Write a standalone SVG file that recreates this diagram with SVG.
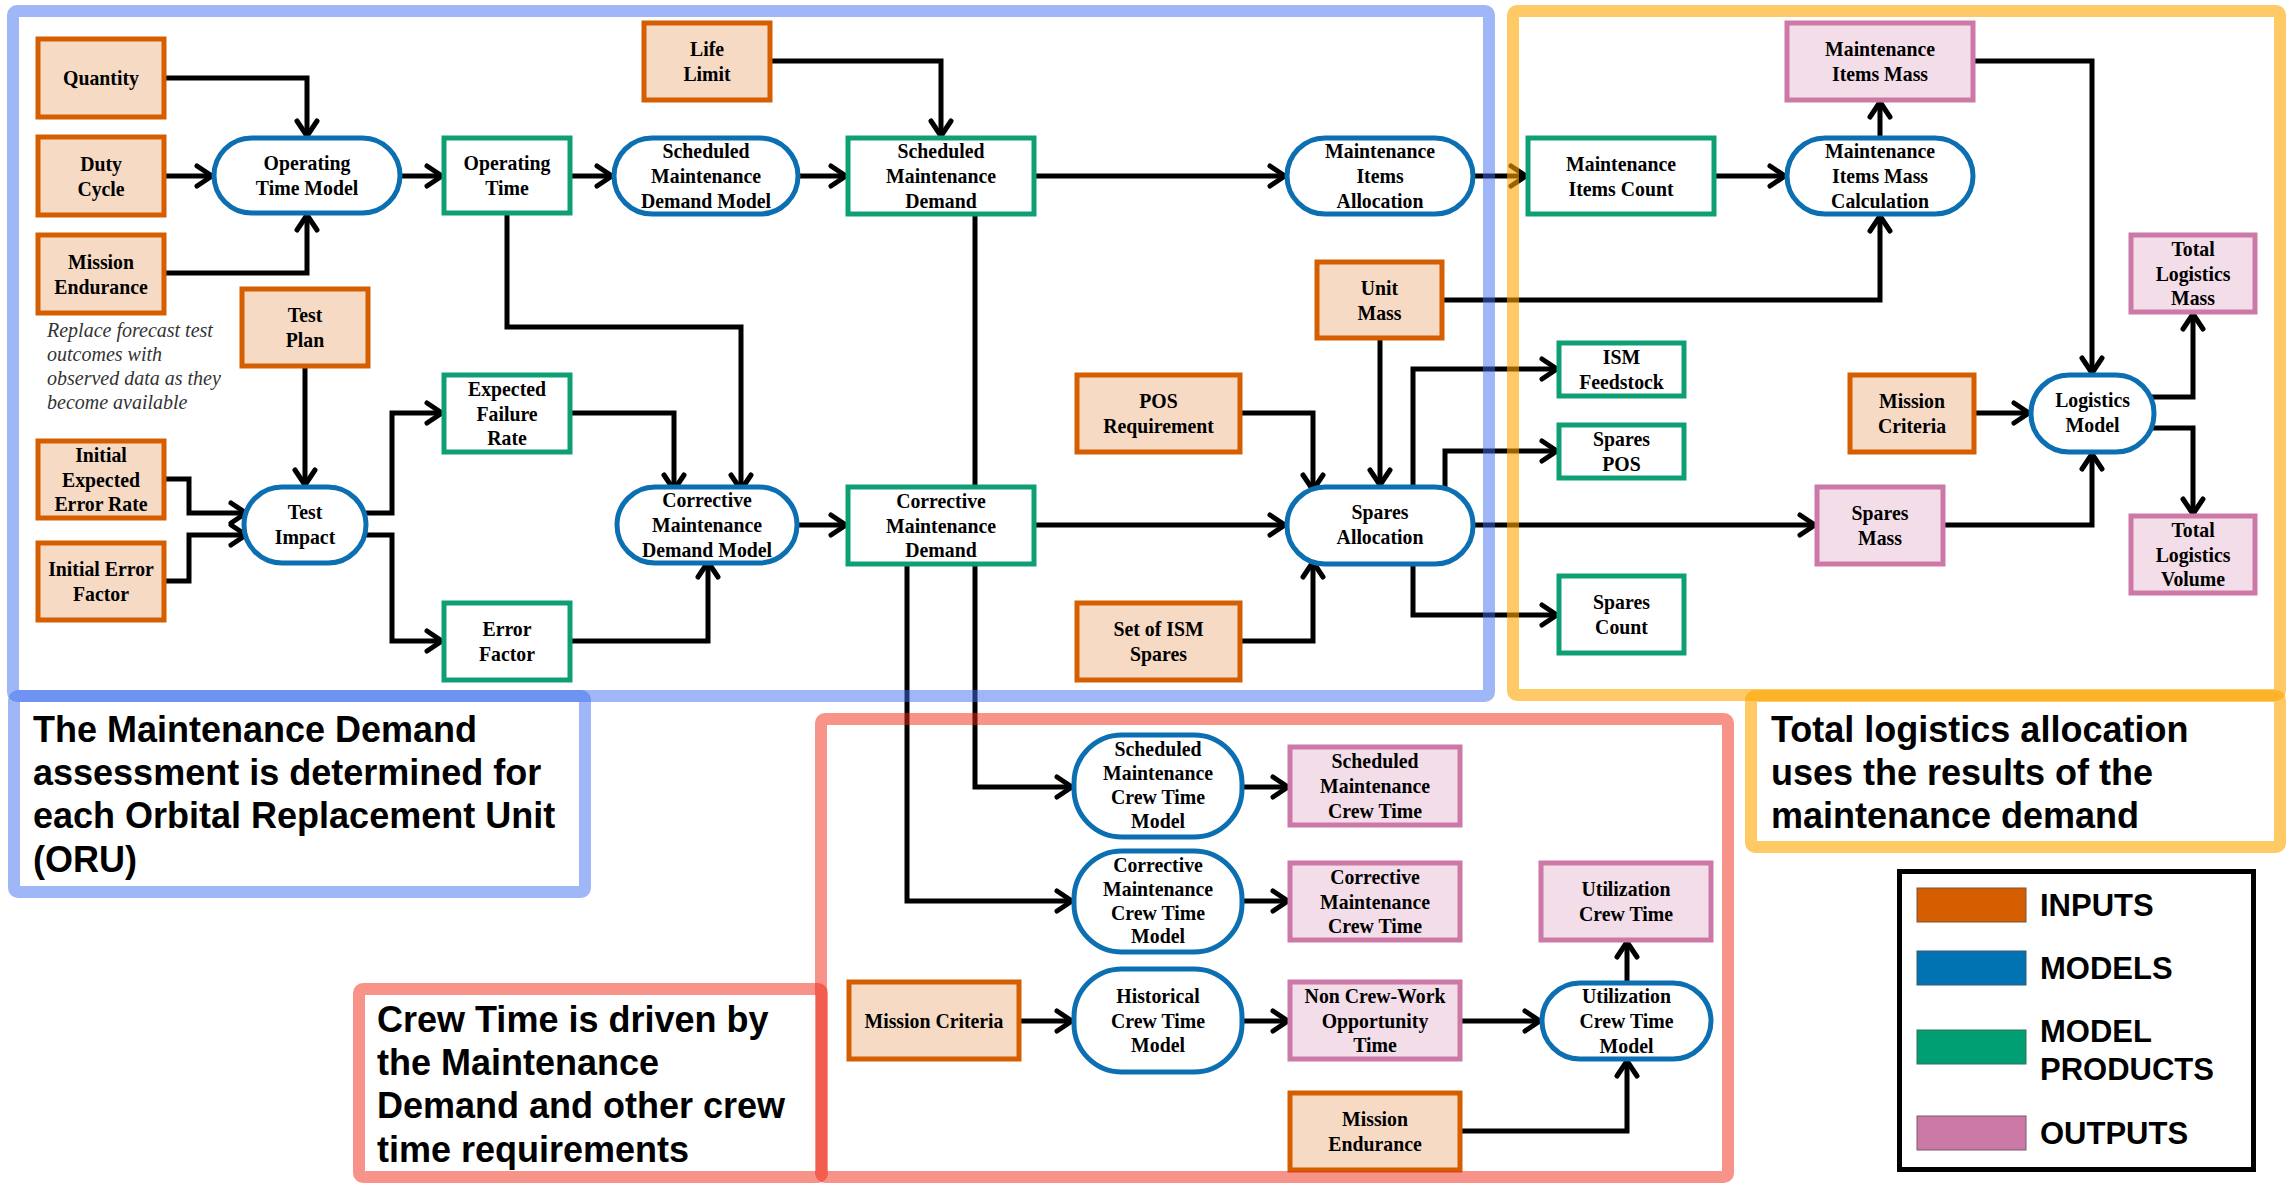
<svg xmlns="http://www.w3.org/2000/svg" width="2287" height="1183" viewBox="0 0 2287 1183">
<defs>
<style>
.nt{font-family:"Liberation Serif","Times New Roman",serif;font-weight:bold;font-size:22px;text-anchor:middle;fill:#000}
.in{fill:#f6dac4;stroke:#d55e00;stroke-width:5}
.md{fill:#fff;stroke:#0c6fb1;stroke-width:5}
.pr{fill:#fff;stroke:#0f9f74;stroke-width:5}
.ou{fill:#f3dde8;stroke:#cc79a7;stroke-width:5}
.c polyline{fill:none;stroke:#000;stroke-width:5;marker-end:url(#ah)}
.fr{fill:none;stroke-width:12}
.fb{stroke:rgb(64,112,240);stroke-opacity:.5}
.fy{stroke:rgb(255,165,0);stroke-opacity:.6}
.frd{stroke:rgb(240,40,20);stroke-opacity:.5}
.lb{font-family:"Liberation Sans",Arial,sans-serif;font-weight:bold;font-size:36px;fill:#000}
.lg{font-family:"Liberation Sans",Arial,sans-serif;font-weight:bold;font-size:31px;fill:#000}
.note{font-family:"Liberation Serif","Times New Roman",serif;font-style:italic;font-size:20px;fill:#333}
</style>
<marker id="ah" markerUnits="userSpaceOnUse" markerWidth="24" markerHeight="24" refX="18" refY="12" orient="auto" overflow="visible">
<path d="M3,2 L18,12 L3,22" fill="none" stroke="#000" stroke-width="5" stroke-linejoin="round" stroke-linecap="round"/>
</marker>
</defs>
<rect width="2287" height="1183" fill="#fff"/>

<g id="connectors" class="c">
<polyline points="164,78 307,78 307,136"/>
<polyline points="164,176 212,176"/>
<polyline points="164,273 307,273 307,215"/>
<polyline points="400,176 442,176"/>
<polyline points="570,176 612,176"/>
<polyline points="798,176 846,176"/>
<polyline points="770,61 941,61 941,136"/>
<polyline points="507,213 507,327 741,327 741,490"/>
<polyline points="305,366 305,485"/>
<polyline points="164,479 189,479 189,513 246,513"/>
<polyline points="164,581 189,581 189,535 246,535"/>
<polyline points="364,513 392,513 392,413 442,413"/>
<polyline points="364,535 392,535 392,641 442,641"/>
<polyline points="570,413 674,413 674,490"/>
<polyline points="570,641 708,641 708,562"/>
<polyline points="797,525 846,525"/>
<polyline points="1034,176 1285,176"/>
<polyline points="1473,176 1526,176"/>
<polyline points="975,214 975,787 1072,787"/>
<polyline points="907,564 907,901 1072,901"/>
<polyline points="1034,525 1285,525"/>
<polyline points="1240,413 1313,413 1313,490"/>
<polyline points="1380,338 1380,485"/>
<polyline points="1442,300 1880,300 1880,216"/>
<polyline points="1413,488 1413,369 1557,369"/>
<polyline points="1445,490 1445,451 1557,451"/>
<polyline points="1413,563 1413,615 1557,615"/>
<polyline points="1240,641 1313,641 1313,562"/>
<polyline points="1473,525 1815,525"/>
<polyline points="1714,176 1785,176"/>
<polyline points="1880,138 1880,102"/>
<polyline points="1973,61 2092,61 2092,373"/>
<polyline points="1974,413 2029,413"/>
<polyline points="1943,525 2092,525 2092,454"/>
<polyline points="2150,397 2193,397 2193,314"/>
<polyline points="2150,428 2193,428 2193,514"/>
<polyline points="1019,1021 1072,1021"/>
<polyline points="1242,1021 1288,1021"/>
<polyline points="1460,1021 1540,1021"/>
<polyline points="1242,787 1288,787"/>
<polyline points="1242,901 1288,901"/>
<polyline points="1460,1131 1627,1131 1627,1061"/>
<polyline points="1627,983 1627,942"/>
</g>

<g id="nodes">
<g id="quantity"><rect class="in" x="38" y="39" width="126" height="78"/><text class="nt" transform="translate(101,78) scale(0.9,1)"><tspan x="0" y="7">Quantity</tspan></text></g>
<g id="duty-cycle"><rect class="in" x="38" y="137" width="126" height="78"/><text class="nt" transform="translate(101,176) scale(0.9,1)"><tspan x="0" y="-5.5">Duty</tspan><tspan x="0" y="19.5">Cycle</tspan></text></g>
<g id="mission-endurance"><rect class="in" x="38" y="235" width="126" height="78"/><text class="nt" transform="translate(101,274) scale(0.9,1)"><tspan x="0" y="-5.5">Mission</tspan><tspan x="0" y="19.5">Endurance</tspan></text></g>
<g id="test-plan"><rect class="in" x="242" y="289" width="126" height="77"/><text class="nt" transform="translate(305,327.5) scale(0.9,1)"><tspan x="0" y="-5.5">Test</tspan><tspan x="0" y="19.5">Plan</tspan></text></g>
<g id="initial-expected-error-rate"><rect class="in" x="38" y="441" width="126" height="77"/><text class="nt" transform="translate(101,479.5) scale(0.9,1)"><tspan x="0" y="-18">Initial</tspan><tspan x="0" y="7">Expected</tspan><tspan x="0" y="32">Error Rate</tspan></text></g>
<g id="initial-error-factor"><rect class="in" x="38" y="543" width="126" height="77"/><text class="nt" transform="translate(101,581.5) scale(0.9,1)"><tspan x="0" y="-5.5">Initial Error</tspan><tspan x="0" y="19.5">Factor</tspan></text></g>
<g id="life-limit"><rect class="in" x="644" y="23" width="126" height="77"/><text class="nt" transform="translate(707,61.5) scale(0.9,1)"><tspan x="0" y="-5.5">Life</tspan><tspan x="0" y="19.5">Limit</tspan></text></g>
<g id="unit-mass"><rect class="in" x="1317" y="262" width="125" height="76"/><text class="nt" transform="translate(1379.5,300) scale(0.9,1)"><tspan x="0" y="-5.5">Unit</tspan><tspan x="0" y="19.5">Mass</tspan></text></g>
<g id="pos-requirement"><rect class="in" x="1077" y="375" width="163" height="77"/><text class="nt" transform="translate(1158.5,413.5) scale(0.9,1)"><tspan x="0" y="-5.5">POS</tspan><tspan x="0" y="19.5">Requirement</tspan></text></g>
<g id="set-of-ism-spares"><rect class="in" x="1077" y="603" width="163" height="77"/><text class="nt" transform="translate(1158.5,641.5) scale(0.9,1)"><tspan x="0" y="-5.5">Set of ISM</tspan><tspan x="0" y="19.5">Spares</tspan></text></g>
<g id="mission-criteria"><rect class="in" x="1850" y="375" width="124" height="77"/><text class="nt" transform="translate(1912,413.5) scale(0.9,1)"><tspan x="0" y="-5.5">Mission</tspan><tspan x="0" y="19.5">Criteria</tspan></text></g>
<g id="mission-criteria-crew"><rect class="in" x="849" y="982" width="170" height="77"/><text class="nt" transform="translate(934,1020.5) scale(0.9,1)"><tspan x="0" y="7">Mission Criteria</tspan></text></g>
<g id="mission-endurance-crew"><rect class="in" x="1290" y="1093" width="170" height="77"/><text class="nt" transform="translate(1375,1131.5) scale(0.9,1)"><tspan x="0" y="-5.5">Mission</tspan><tspan x="0" y="19.5">Endurance</tspan></text></g>

<g id="operating-time-model"><rect class="md" x="214" y="138" width="186" height="75" rx="37.5"/><text class="nt" transform="translate(307,175.5) scale(0.9,1)"><tspan x="0" y="-5.5">Operating</tspan><tspan x="0" y="19.5">Time Model</tspan></text></g>
<g id="scheduled-maintenance-demand-model"><rect class="md" x="614" y="138" width="184" height="76" rx="38"/><text class="nt" transform="translate(706,176) scale(0.9,1)"><tspan x="0" y="-18">Scheduled</tspan><tspan x="0" y="7">Maintenance</tspan><tspan x="0" y="32">Demand Model</tspan></text></g>
<g id="test-impact"><rect class="md" x="244" y="487" width="122" height="76" rx="38"/><text class="nt" transform="translate(305,525) scale(0.9,1)"><tspan x="0" y="-6.5">Test</tspan><tspan x="0" y="18.5">Impact</tspan></text></g>
<g id="corrective-maintenance-demand-model"><rect class="md" x="617" y="487" width="180" height="76" rx="38"/><text class="nt" transform="translate(707,525) scale(0.9,1)"><tspan x="0" y="-18">Corrective</tspan><tspan x="0" y="7">Maintenance</tspan><tspan x="0" y="32">Demand Model</tspan></text></g>
<g id="maintenance-items-allocation"><rect class="md" x="1287" y="138" width="186" height="76" rx="38"/><text class="nt" transform="translate(1380,176) scale(0.9,1)"><tspan x="0" y="-18">Maintenance</tspan><tspan x="0" y="7">Items</tspan><tspan x="0" y="32">Allocation</tspan></text></g>
<g id="spares-allocation"><rect class="md" x="1287" y="487" width="186" height="77" rx="38"/><text class="nt" transform="translate(1380,525.5) scale(0.9,1)"><tspan x="0" y="-6.5">Spares</tspan><tspan x="0" y="18.5">Allocation</tspan></text></g>
<g id="maintenance-items-mass-calculation"><rect class="md" x="1787" y="138" width="186" height="76" rx="38"/><text class="nt" transform="translate(1880,176) scale(0.9,1)"><tspan x="0" y="-18">Maintenance</tspan><tspan x="0" y="7">Items Mass</tspan><tspan x="0" y="32">Calculation</tspan></text></g>
<g id="logistics-model"><rect class="md" x="2031" y="375" width="123" height="77" rx="38"/><text class="nt" transform="translate(2092.5,413.5) scale(0.9,1)"><tspan x="0" y="-6.5">Logistics</tspan><tspan x="0" y="18.5">Model</tspan></text></g>
<g id="scheduled-maintenance-crew-time-model"><rect class="md" x="1074" y="735" width="168" height="102" rx="48"/><text class="nt" transform="translate(1158,786) scale(0.9,1)"><tspan x="0" y="-30">Scheduled</tspan><tspan x="0" y="-6">Maintenance</tspan><tspan x="0" y="18">Crew Time</tspan><tspan x="0" y="42">Model</tspan></text></g>
<g id="corrective-maintenance-crew-time-model"><rect class="md" x="1074" y="851" width="168" height="101" rx="48"/><text class="nt" transform="translate(1158,901.5) scale(0.9,1)"><tspan x="0" y="-30">Corrective</tspan><tspan x="0" y="-6">Maintenance</tspan><tspan x="0" y="18">Crew Time</tspan><tspan x="0" y="42">Model</tspan></text></g>
<g id="historical-crew-time-model"><rect class="md" x="1074" y="969" width="168" height="103" rx="48"/><text class="nt" transform="translate(1158,1020.5) scale(0.9,1)"><tspan x="0" y="-18">Historical</tspan><tspan x="0" y="7">Crew Time</tspan><tspan x="0" y="32">Model</tspan></text></g>
<g id="utilization-crew-time-model"><rect class="md" x="1542" y="983" width="169" height="76" rx="38"/><text class="nt" transform="translate(1626.5,1021) scale(0.9,1)"><tspan x="0" y="-18">Utilization</tspan><tspan x="0" y="7">Crew Time</tspan><tspan x="0" y="32">Model</tspan></text></g>

<g id="operating-time"><rect class="pr" x="444" y="138" width="126" height="75"/><text class="nt" transform="translate(507,175.5) scale(0.9,1)"><tspan x="0" y="-5.5">Operating</tspan><tspan x="0" y="19.5">Time</tspan></text></g>
<g id="scheduled-maintenance-demand"><rect class="pr" x="848" y="138" width="186" height="76"/><text class="nt" transform="translate(941,176) scale(0.9,1)"><tspan x="0" y="-18">Scheduled</tspan><tspan x="0" y="7">Maintenance</tspan><tspan x="0" y="32">Demand</tspan></text></g>
<g id="expected-failure-rate"><rect class="pr" x="444" y="375" width="126" height="77"/><text class="nt" transform="translate(507,413.5) scale(0.9,1)"><tspan x="0" y="-18">Expected</tspan><tspan x="0" y="7">Failure</tspan><tspan x="0" y="32">Rate</tspan></text></g>
<g id="error-factor"><rect class="pr" x="444" y="603" width="126" height="77"/><text class="nt" transform="translate(507,641.5) scale(0.9,1)"><tspan x="0" y="-5.5">Error</tspan><tspan x="0" y="19.5">Factor</tspan></text></g>
<g id="corrective-maintenance-demand"><rect class="pr" x="848" y="487" width="186" height="77"/><text class="nt" transform="translate(941,525.5) scale(0.9,1)"><tspan x="0" y="-18">Corrective</tspan><tspan x="0" y="7">Maintenance</tspan><tspan x="0" y="32">Demand</tspan></text></g>
<g id="maintenance-items-count"><rect class="pr" x="1528" y="138" width="186" height="76"/><text class="nt" transform="translate(1621,176) scale(0.9,1)"><tspan x="0" y="-5.5">Maintenance</tspan><tspan x="0" y="19.5">Items Count</tspan></text></g>
<g id="ism-feedstock"><rect class="pr" x="1559" y="343" width="125" height="53"/><text class="nt" transform="translate(1621.5,369.5) scale(0.9,1)"><tspan x="0" y="-5.5">ISM</tspan><tspan x="0" y="19.5">Feedstock</tspan></text></g>
<g id="spares-pos"><rect class="pr" x="1559" y="425" width="125" height="53"/><text class="nt" transform="translate(1621.5,451.5) scale(0.9,1)"><tspan x="0" y="-5.5">Spares</tspan><tspan x="0" y="19.5">POS</tspan></text></g>
<g id="spares-count"><rect class="pr" x="1559" y="576" width="125" height="77"/><text class="nt" transform="translate(1621.5,614.5) scale(0.9,1)"><tspan x="0" y="-5.5">Spares</tspan><tspan x="0" y="19.5">Count</tspan></text></g>

<g id="maintenance-items-mass"><rect class="ou" x="1787" y="23" width="186" height="77"/><text class="nt" transform="translate(1880,61.5) scale(0.9,1)"><tspan x="0" y="-5.5">Maintenance</tspan><tspan x="0" y="19.5">Items Mass</tspan></text></g>
<g id="total-logistics-mass"><rect class="ou" x="2131" y="235" width="124" height="77"/><text class="nt" transform="translate(2193,273.5) scale(0.9,1)"><tspan x="0" y="-18">Total</tspan><tspan x="0" y="7">Logistics</tspan><tspan x="0" y="32">Mass</tspan></text></g>
<g id="total-logistics-volume"><rect class="ou" x="2131" y="516" width="124" height="77"/><text class="nt" transform="translate(2193,554.5) scale(0.9,1)"><tspan x="0" y="-18">Total</tspan><tspan x="0" y="7">Logistics</tspan><tspan x="0" y="32">Volume</tspan></text></g>
<g id="spares-mass"><rect class="ou" x="1817" y="487" width="126" height="77"/><text class="nt" transform="translate(1880,525.5) scale(0.9,1)"><tspan x="0" y="-5.5">Spares</tspan><tspan x="0" y="19.5">Mass</tspan></text></g>
<g id="scheduled-maintenance-crew-time"><rect class="ou" x="1290" y="747" width="170" height="78"/><text class="nt" transform="translate(1375,786) scale(0.9,1)"><tspan x="0" y="-18">Scheduled</tspan><tspan x="0" y="7">Maintenance</tspan><tspan x="0" y="32">Crew Time</tspan></text></g>
<g id="corrective-maintenance-crew-time"><rect class="ou" x="1290" y="863" width="170" height="77"/><text class="nt" transform="translate(1375,901.5) scale(0.9,1)"><tspan x="0" y="-18">Corrective</tspan><tspan x="0" y="7">Maintenance</tspan><tspan x="0" y="32">Crew Time</tspan></text></g>
<g id="utilization-crew-time"><rect class="ou" x="1541" y="863" width="170" height="77"/><text class="nt" transform="translate(1626,901.5) scale(0.9,1)"><tspan x="0" y="-5.5">Utilization</tspan><tspan x="0" y="19.5">Crew Time</tspan></text></g>
<g id="non-crew-work-opportunity-time"><rect class="ou" x="1290" y="982" width="170" height="77"/><text class="nt" transform="translate(1375,1020.5) scale(0.9,1)"><tspan x="0" y="-18">Non Crew-Work</tspan><tspan x="0" y="7">Opportunity</tspan><tspan x="0" y="32">Time</tspan></text></g>
</g>

<g id="note">
<text class="note" x="47" y="337">Replace forecast test</text>
<text class="note" x="47" y="361">outcomes with</text>
<text class="note" x="47" y="385">observed data as they</text>
<text class="note" x="47" y="409">become available</text>
</g>

<g id="frames">
<rect class="fr fb" x="13" y="11" width="1476" height="685" rx="4"/>
<rect class="fr fb" x="14" y="696" width="571" height="196" rx="4"/>
<rect class="fr fy" x="1513" y="11" width="767" height="684" rx="4"/>
<rect class="fr fy" x="1751" y="696" width="529" height="151" rx="4"/>
<rect class="fr frd" x="821" y="719" width="907" height="458" rx="4"/>
<rect class="fr frd" x="359" y="989" width="463" height="188" rx="4"/>
</g>

<g id="labels">
<text class="lb"><tspan x="33" y="742">The Maintenance Demand</tspan><tspan x="33" y="785">assessment is determined for</tspan><tspan x="33" y="828">each Orbital Replacement Unit</tspan><tspan x="33" y="872">(ORU)</tspan></text>
<text class="lb"><tspan x="1771" y="742">Total logistics allocation</tspan><tspan x="1771" y="785">uses the results of the</tspan><tspan x="1771" y="828">maintenance demand</tspan></text>
<text class="lb"><tspan x="377" y="1032">Crew Time is driven by</tspan><tspan x="377" y="1075">the Maintenance</tspan><tspan x="377" y="1118">Demand and other crew</tspan><tspan x="377" y="1162">time requirements</tspan></text>
</g>

<g id="legend">
<rect x="1899.5" y="871.5" width="354" height="298" fill="#fff" stroke="#000" stroke-width="5"/>
<rect x="1917" y="888" width="109" height="34" fill="#d55e00" stroke="#7a5040" stroke-width="1"/>
<rect x="1917" y="951" width="109" height="34" fill="#0072b2" stroke="#3a5a70" stroke-width="1"/>
<rect x="1917" y="1030" width="109" height="34" fill="#009e73" stroke="#3a6a5a" stroke-width="1"/>
<rect x="1917" y="1116" width="109" height="34" fill="#cc79a7" stroke="#7a5a6a" stroke-width="1"/>
<text class="lg" x="2040" y="916">INPUTS</text>
<text class="lg" x="2040" y="979">MODELS</text>
<text class="lg"><tspan x="2040" y="1042">MODEL</tspan><tspan x="2040" y="1080">PRODUCTS</tspan></text>
<text class="lg" x="2040" y="1144">OUTPUTS</text>
</g>
</svg>
